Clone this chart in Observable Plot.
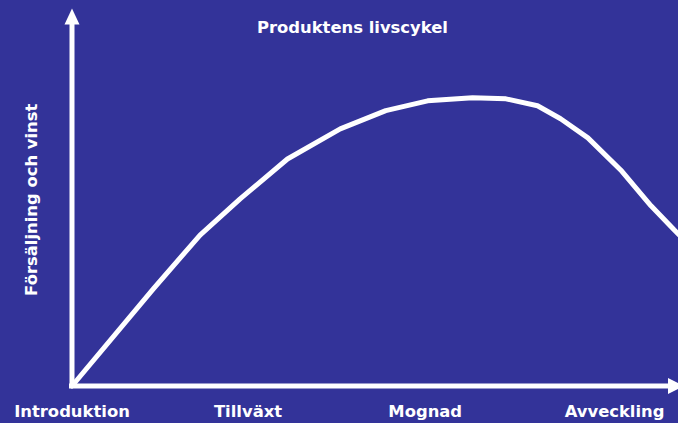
<!DOCTYPE html>
<html><head><meta charset="utf-8">
<script src="https://cdn.jsdelivr.net/npm/d3@7"></script>
<script src="https://cdn.jsdelivr.net/npm/@observablehq/plot@0.6"></script>
<style>
html,body{margin:0;padding:0;background:#333399;overflow:hidden;width:678px;height:423px}
svg{display:block}
</style>
</head><body><div id="chart"></div>
<script>
const title = "Produktens livscykel";
const yLabel = "Försäljning och vinst";
const stages = ["Introduktion", "Tillväxt", "Mognad", "Avveckling"];
const stagePos = [0, 29, 58.2, 89.4];
const curveX = [0, 13.4, 21.1, 27.7, 35.5, 44.2, 51.7, 58.6, 66.0, 71.5, 76.7, 80.5, 85.0, 90.4, 95.4, 99.2, 100.7];
const curveY = [0, 33.6, 52.2, 64.7, 78.5, 88.9, 95.2, 98.6, 99.7, 99.3, 96.9, 92.4, 85.8, 74.7, 62.3, 54.0, 50.9];
const axisMaxX = 98.2;
const axisMaxY = 125;

const curve = curveX.map((x, i) => ({x, y: curveY[i]}));
const stageData = stages.map((s, i) => ({label: s, x: stagePos[i]}));

const arrowUp = {draw(ctx) { ctx.moveTo(0, -16); ctx.lineTo(7.5, 0); ctx.lineTo(-7.5, 0); ctx.closePath(); }};
const arrowRight = {draw(ctx) { ctx.moveTo(16, 0); ctx.lineTo(0, -8); ctx.lineTo(0, 8); ctx.closePath(); }};

const font = "DejaVu Sans, Verdana, sans-serif";

const chart = Plot.plot({
  width: 678,
  height: 423,
  marginLeft: 71.5,
  marginRight: 10.5,
  marginTop: 24,
  marginBottom: 37.5,
  style: {background: "#333399", color: "white", fontFamily: font, overflow: "hidden"},
  x: {domain: [0, axisMaxX], axis: null},
  y: {domain: [0, axisMaxY], axis: null},
  marks: [
    Plot.ruleX([0], {y1: 0, y2: axisMaxY, stroke: "white", strokeWidth: 5, strokeLinecap: "square"}),
    Plot.ruleY([0], {x1: 0, x2: axisMaxX, stroke: "white", strokeWidth: 5, strokeLinecap: "square"}),
    Plot.dot([{x: 0, y: axisMaxY}], {x: "x", y: "y", symbol: arrowUp, fill: "white", stroke: null}),
    Plot.dot([{x: axisMaxX, y: 0}], {x: "x", y: "y", symbol: arrowRight, fill: "white", stroke: null}),
    Plot.line(curve, {x: "x", y: "y", stroke: "white", strokeWidth: 5, strokeLinejoin: "round", curve: "linear"}),
    Plot.text(stageData, {x: "x", y: 0, text: "label", dy: 26, fill: "white", fontSize: 16.4, fontWeight: "bold", fontFamily: font}),
    Plot.text([title], {x: 46.2, frameAnchor: "top", text: d => d, dy: -3.5, fill: "white", fontSize: 16.4, fontWeight: "bold", fontFamily: font}),
    Plot.text([yLabel], {x: 0, y: 64.4, text: d => d, dx: -40, rotate: -90, fill: "white", fontSize: 16.4, fontWeight: "bold", fontFamily: font})
  ]
});
document.getElementById("chart").appendChild(chart);
</script>
</body></html>
